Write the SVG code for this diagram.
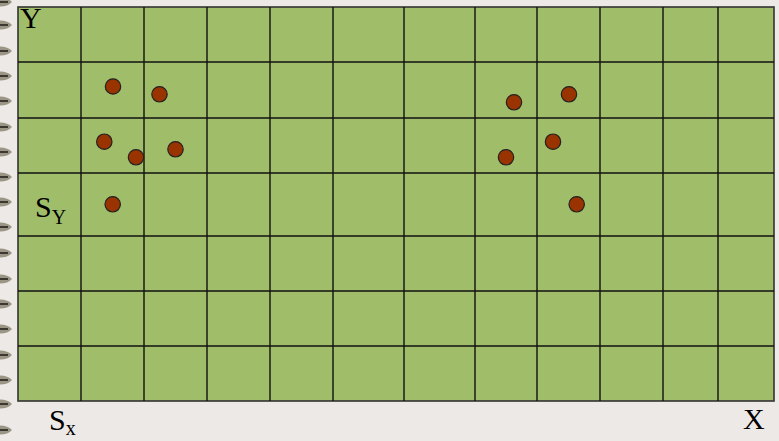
<svg xmlns="http://www.w3.org/2000/svg" width="779" height="441" viewBox="0 0 779 441">
<style>
.grid{stroke:#111;stroke-width:1.4;fill:none}
.dot{fill:#993300;stroke:#222;stroke-width:1.2}
.t{font-family:"Liberation Serif","Times New Roman",serif;fill:#000}
.mark{fill:#9a9585}
.markd{stroke:#3a3830;stroke-width:2}
</style>
<defs>
<g id="m">
<path class="mark" d="M0,-4.5 Q8,-4.5 12,0 Q8,4.5 0,4.5 Z"/>
<line class="markd" x1="0" y1="0" x2="8" y2="0"/>
</g>
</defs>
<rect width="779" height="441" fill="#EDE9E6"/>
<g id="binding">
<use href="#m" x="0" y="2"/>
<use href="#m" x="0" y="25"/>
<use href="#m" x="0" y="51"/>
<use href="#m" x="0" y="76"/>
<use href="#m" x="0" y="101"/>
<use href="#m" x="0" y="127"/>
<use href="#m" x="0" y="152"/>
<use href="#m" x="0" y="177"/>
<use href="#m" x="0" y="202"/>
<use href="#m" x="0" y="227"/>
<use href="#m" x="0" y="253"/>
<use href="#m" x="0" y="279"/>
<use href="#m" x="0" y="304"/>
<use href="#m" x="0" y="329"/>
<use href="#m" x="0" y="355"/>
<use href="#m" x="0" y="380"/>
<use href="#m" x="0" y="404"/>
<use href="#m" x="0" y="430"/>
</g>
<g id="grid">
<rect x="18" y="7" width="756" height="394" fill="#A0BD6A" stroke="#333" stroke-width="1.6"/>
<path class="grid" d="M81,7V401M144,7V401M207,7V401M270,7V401M333,7V401M404,7V401M475,7V401M537,7V401M600,7V401M663,7V401M718,7V401M18,62H774M18,118H774M18,173H774M18,236H774M18,291H774M18,346H774"/>
</g>
<g id="points">
<circle class="dot" cx="113" cy="86.5" r="7.7"/>
<circle class="dot" cx="159.5" cy="94.3" r="7.7"/>
<circle class="dot" cx="104.3" cy="141.7" r="7.7"/>
<circle class="dot" cx="136" cy="157.3" r="7.7"/>
<circle class="dot" cx="175.5" cy="149.3" r="7.7"/>
<circle class="dot" cx="112.7" cy="204.3" r="7.7"/>
<circle class="dot" cx="514" cy="102.3" r="7.7"/>
<circle class="dot" cx="569" cy="94.3" r="7.7"/>
<circle class="dot" cx="553" cy="141.7" r="7.7"/>
<circle class="dot" cx="506" cy="157.3" r="7.7"/>
<circle class="dot" cx="576.7" cy="204.3" r="7.7"/>
</g>
<g id="labels">
<text class="t" x="20" y="28" font-size="30">Y</text>
<text class="t" x="35" y="217" font-size="30">S<tspan font-size="20" dy="7">Y</tspan></text>
<text class="t" x="49" y="430" font-size="30">S<tspan font-size="20" dy="5">x</tspan></text>
<text class="t" x="743" y="429" font-size="30">X</text>
</g>
</svg>
